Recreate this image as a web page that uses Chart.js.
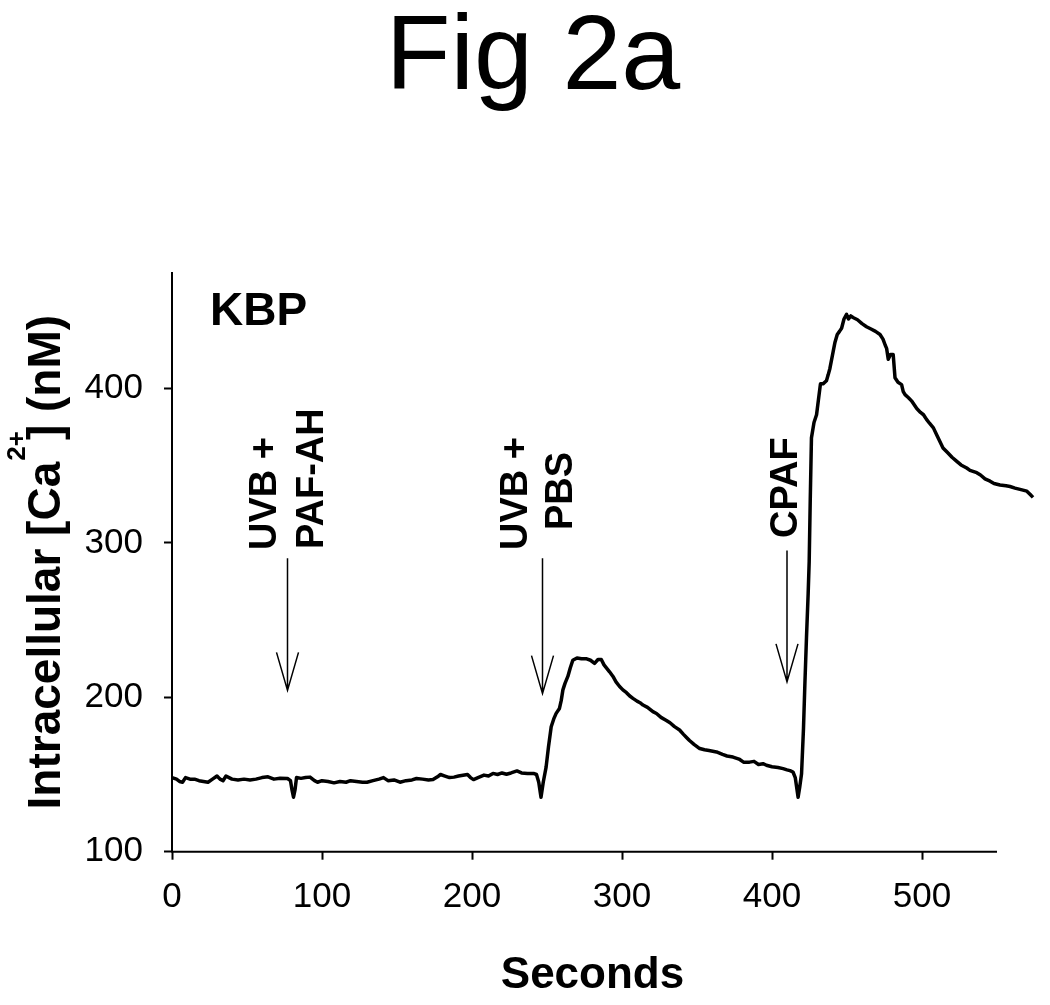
<!DOCTYPE html>
<html>
<head>
<meta charset="utf-8">
<title>Fig 2a</title>
<script src="https://cdn.jsdelivr.net/npm/chart.js@4.4.1/dist/chart.umd.min.js"></script>
<style>
  html, body { margin: 0; padding: 0; background: #fff; }
  #chart-container { width: 1050px; height: 1005px; }
</style>
</head>
<body>
<div id="chart-container"><canvas id="chart-canvas"></canvas></div>
<script>
// trace: time (s) and intracellular Ca2+ (nM)
const seconds = [
  0, 3, 5, 7, 9, 12, 15, 18, 21, 24, 27, 30, 32, 34, 36, 38, 40, 44, 48, 52,
  56, 60, 64, 68, 72, 77, 79, 80, 81, 82, 83, 86, 89, 92, 95, 97, 100, 104, 108, 112,
  116, 119, 123, 127, 130, 134, 138, 141, 144, 148, 152, 156, 160, 163, 167, 171, 174, 177, 179, 182,
  185, 188, 191, 194, 197, 199, 201, 204, 208, 211, 214, 217, 220, 223, 226, 230, 233, 237, 241, 243,
  244.5, 246, 247.5, 249.4, 251, 252.8, 254.5, 256.1, 258.3, 259.5, 260.6, 262, 263.9, 265.5, 267.2, 270, 273, 276, 279, 281.7,
  284, 286.2, 288, 291.7, 294, 296, 298.4, 300.6, 303, 305, 307.3, 310, 312, 314, 317, 320.6, 323, 326, 329.6, 332,
  335, 338.4, 341, 343, 345, 348, 351.8, 355, 358, 363, 367, 370, 374, 378, 381, 385, 388, 391, 394, 396.3,
  400, 404, 407.4, 410, 412, 414, 415.5, 417.4, 418.5, 419.7, 421, 421.9, 423, 424.1, 424.8, 425.5, 426.3, 428, 429.7, 431,
  432.3, 434, 436.3, 437.5, 438.6, 440.8, 442, 443.5, 445, 446.4, 448, 449.7, 451, 452.5, 454, 457, 460, 463, 466, 469,
  472, 474, 475.5, 476.4, 477.5, 479, 480.8, 482, 484, 486.4, 487.5, 488.7, 491, 493, 496.5, 499, 501, 503, 505, 507.6,
  510, 512, 514, 517, 520, 523, 526, 529.8, 532, 536.5, 539, 542, 545.4, 548, 552, 556, 558.7, 562, 566, 569.9,
  572, 574
];
const calcium = [
  148, 147, 145.5, 145, 148, 147, 147, 146, 145.5, 145, 147, 149, 147, 146, 149, 148, 147, 146.5, 147, 146.5,
  147, 148, 148.5, 147, 147.5, 147.4, 146, 140, 135.3, 140, 148, 147.5, 148, 148.3, 146, 145, 146, 145.5, 144.6, 145.5,
  145, 146, 145.5, 145, 145, 146, 147, 148, 146, 146.5, 145, 146, 146.5, 147.4, 147, 146.5, 146.7, 148.5, 150, 149,
  148, 148.3, 149, 149.5, 150, 148, 146.7, 148, 149.6, 149, 150.7, 150, 151, 150.2, 151, 152.3, 151, 150.7, 150.7, 150,
  145, 135.3, 145, 154.8, 168, 180.9, 186, 189.6, 192.8, 198, 204.8, 209, 213.5, 219, 224, 225.5, 225, 225, 224, 222,
  224.5, 224.5, 221, 216.5, 213.5, 210, 207, 204.8, 203, 201, 199.3, 197.5, 196.5, 195, 193.5, 190.7, 189.5, 187, 185, 183.5,
  181, 178.8, 176, 174, 172, 169.5, 166.8, 166, 165.5, 164.6, 163, 162, 161.3, 160, 158, 158, 158.5, 156.5, 157, 156,
  155, 154.5, 153.8, 153, 152.5, 151.6, 148, 135.3, 142, 150.5, 180, 208, 239, 267, 288, 328, 368, 378, 383, 393,
  403, 403, 405, 409, 413, 424, 430, 435, 437, 439, 445, 448, 445, 447, 446, 444.5, 442, 440, 438.5, 437,
  435, 432, 428, 426, 419, 422, 422, 407, 404, 402.5, 398, 396, 394, 392, 387, 384.5, 383, 380, 377.5, 374.5,
  369.5, 365.5, 361.5, 358.5, 355.5, 353, 350.5, 348.5, 347, 345.5, 344, 341.5, 340, 338.5, 337.5, 337, 336.5, 335.5, 334.5, 333.5,
  331.5, 329.5
];

const xTicks = [0, 100, 200, 300, 400, 500];
const yTicks = [100, 200, 300, 400];
const xAxisEnd = 550; // drawn axis stops here, the trace runs a bit past it

// additions marked by arrows
const eventTimes = [77, 247, 410];
const eventLabels = [['UVB +', 'PAF-AH'], ['UVB +', 'PBS'], ['CPAF']];

const FONT = "'Liberation Sans', Arial, Helvetica, sans-serif";
Chart.defaults.font.family = FONT;
Chart.defaults.color = '#000';

const chartRef = document.getElementById('chart-canvas');

// x axis line only up to 550
const axisLinePlugin = {
  id: 'axisLine',
  beforeDatasetsDraw(chart) {
    const { ctx, chartArea, scales: { x } } = chart;
    ctx.save();
    ctx.strokeStyle = '#000';
    ctx.lineWidth = 2;
    ctx.beginPath();
    ctx.moveTo(x.getPixelForValue(0) - 1, chartArea.bottom);
    ctx.lineTo(x.getPixelForValue(xAxisEnd), chartArea.bottom);
    ctx.stroke();
    ctx.restore();
  }
};

// arrows + rotated labels
const arrowPlugin = {
  id: 'arrows',
  afterDatasetsDraw(chart, args, opts) {
    const { ctx, scales: { x, y } } = chart;
    ctx.save();
    ctx.strokeStyle = '#000';
    ctx.fillStyle = '#000';
    ctx.lineWidth = 1.5;
    eventTimes.forEach((t, i) => {
      const px = x.getPixelForValue(t);
      const tip = y.getPixelForValue(opts.tips[i]);
      const top = y.getPixelForValue(opts.tops[i]);
      ctx.beginPath();
      ctx.moveTo(px, top);
      ctx.lineTo(px, tip);
      ctx.moveTo(px - 11, tip - 38);
      ctx.lineTo(px, tip);
      ctx.lineTo(px + 11, tip - 38);
      ctx.stroke();

      ctx.font = 'bold 38px ' + FONT;
      ctx.textAlign = 'left';
      ctx.textBaseline = 'middle';
      eventLabels[i].forEach((txt, j) => {
        ctx.save();
        ctx.translate(px + opts.offsets[i][j], opts.starts[i][j]);
        ctx.rotate(-Math.PI / 2);
        ctx.fillText(txt, 0, 0);
        ctx.restore();
      });
    });
    ctx.restore();
  }
};

// axis titles (y one has a superscript) and the KBP tag
const textPlugin = {
  id: 'extraText',
  afterDraw(chart) {
    const { ctx, chartArea, scales: { x } } = chart;
    const main = 'bold 46px ' + FONT;
    const sup = 'bold 26px ' + FONT;
    const parts = ['Intracellular [Ca', '2+', '] (nM)'];
    ctx.save();
    ctx.fillStyle = '#000';
    ctx.textAlign = 'left';
    ctx.textBaseline = 'alphabetic';
    ctx.font = main;
    const w1 = ctx.measureText(parts[0]).width;
    const w3 = ctx.measureText(parts[2]).width;
    ctx.font = sup;
    const w2 = ctx.measureText(parts[1]).width;
    const overlap = 8;
    const total = w1 + w2 - overlap + w3;
    const cy = (chartArea.top + chartArea.bottom) / 2;
    ctx.translate(chartArea.left - 112, cy + total / 2);
    ctx.rotate(-Math.PI / 2);
    ctx.font = main;
    ctx.fillText(parts[0], 0, 0);
    ctx.font = sup;
    ctx.fillText(parts[1], w1 + 1, -35);
    ctx.font = main;
    ctx.fillText(parts[2], w1 + w2 - overlap, 0);
    ctx.restore();

    ctx.save();
    ctx.fillStyle = '#000';
    ctx.font = 'bold 44px ' + FONT;
    ctx.textAlign = 'center';
    ctx.textBaseline = 'middle';
    ctx.fillText('Seconds', (x.getPixelForValue(0) + x.getPixelForValue(xAxisEnd)) / 2 + 8, chart.height - 29.5);
    ctx.font = 'bold 46px ' + FONT;
    ctx.textAlign = 'left';
    ctx.textBaseline = 'alphabetic';
    ctx.fillText('KBP', chartArea.left + 38, chartArea.top + 52);
    ctx.restore();
  }
};

new Chart(chartRef, {
  type: 'line',
  data: {
    datasets: [{
      data: seconds.map((t, i) => ({ x: t, y: calcium[i] })),
      borderColor: '#000',
      borderWidth: 3.5,
      borderJoinStyle: 'round',
      pointRadius: 0,
      tension: 0,
      fill: false,
      clip: false
    }]
  },
  options: {
    responsive: true,
    maintainAspectRatio: false,
    animation: false,
    events: [],
    layout: { padding: { left: 31.5, right: 15.5, top: 0, bottom: 0 } },
    plugins: {
      legend: { display: false },
      tooltip: { enabled: false },
      title: {
        display: true,
        text: 'Fig 2a',
        color: '#000',
        font: { size: 106, weight: 'normal', lineHeight: 1 },
        padding: { top: 7, bottom: 159.7 }
      },
      arrows: {
        tips: [204.5, 202.4, 210],
        tops: [290, 290, 295],
        offsets: [[-22, 25], [-26, 19], [0]],
        starts: [[550, 549], [550, 530], [538]]
      }
    },
    scales: {
      x: {
        type: 'linear',
        min: 0,
        max: 575,
        afterFit: (s) => { s.height = 153.3; },
        afterBuildTicks: (s) => { s.ticks = xTicks.map(v => ({ value: v })); },
        grid: { drawOnChartArea: false, drawTicks: true, tickLength: 8, tickWidth: 2, tickColor: '#000' },
        border: { display: false },
        ticks: { color: '#000', padding: 16.8, autoSkip: false, maxRotation: 0, font: { size: 35 } },
        title: { display: false }
      },
      y: {
        type: 'linear',
        min: 100,
        max: 475,
        afterFit: (s) => { s.width = 140.5; },
        afterBuildTicks: (s) => { s.ticks = yTicks.map(v => ({ value: v })); },
        grid: { drawOnChartArea: false, drawTicks: true, tickLength: 8, tickWidth: 2, tickColor: '#000' },
        border: { display: true, color: '#000', width: 2 },
        ticks: { color: '#000', padding: 21, autoSkip: false, font: { size: 35 } },
        title: { display: false }
      }
    }
  },
  plugins: [axisLinePlugin, arrowPlugin, textPlugin]
});
</script>
</body>
</html>
